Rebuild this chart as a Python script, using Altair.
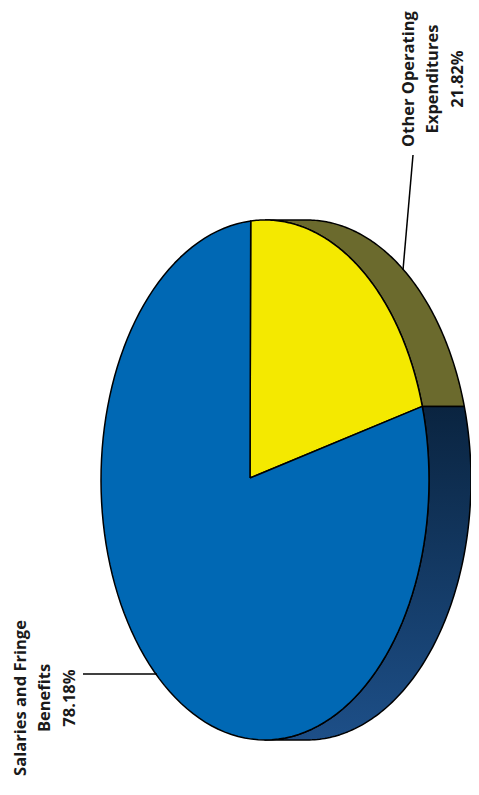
import numpy as np
import pandas as pd
import altair as alt

# ---- data ----
categories = ["Other Operating Expenditures", "Salaries and Fringe Benefits"]
values = [21.82, 78.18]
label_lines = [["Other Operating", "Expenditures", "21.82%"],
               ["Salaries and Fringe", "Benefits", "78.18%"]]

# ---- style / layout constants ----
face_colors = ["#f4e900", "#0068b4"]
side_colors = ["#6b6a2d", None]  # second one uses a gradient
navy_gradient = alt.Gradient(gradient="linear",
                             stops=[alt.GradientStop(color="#0a2440", offset=0),
                                    alt.GradientStop(color="#1d4f88", offset=1)],
                             x1=0, y1=0, x2=0, y2=1)
W, H = 463, 779
RX, RY = 164.0, 260.0          # ellipse radii in px
CX, CY = 257.0, 472.0          # ellipse center in plot px
VX, VY = -15.0 / RX, 2.0 / RY  # where slices meet, relative to ellipse centre (units)
START_DEG = -5.0               # first slice starts slightly left of top
DEPTH = 42.0 / RX              # horizontal extrusion (units)
LINE_GAP = 24.5                # px between label lines
label_centers = [(425, 71), (37, 690)]  # plot px, centre of each label block

xdom = [-CX / RX, (W - CX) / RX]
ydom = [-(H - CY) / RY, CY / RY]
xs = alt.Scale(domain=xdom, nice=False, zero=False)
ys = alt.Scale(domain=ydom, nice=False, zero=False)


def arc_pts(t0, t1, n=120, dx=0.0):
    t = np.radians(np.linspace(t0, t1, n))
    return list(np.sin(t) + dx), list(np.cos(t))


def poly_chart(px, py, fill, stroke_w=1.5):
    px = list(px) + [px[0]]
    py = list(py) + [py[0]]
    df = pd.DataFrame({"X": px, "Y": py, "i": range(len(px))})
    return alt.Chart(df).mark_line(fill=fill, stroke="black", strokeWidth=stroke_w,
                                   strokeJoin="round").encode(
        x=alt.X("X:Q", scale=xs, axis=None),
        y=alt.Y("Y:Q", scale=ys, axis=None),
        order=alt.Order("i:Q"),
    )


# slice angles from values
bounds = [START_DEG]
for v in values:
    bounds.append(bounds[-1] + v / sum(values) * 360.0)

layers = []
# side (visible right half: t in [0,180])
for k in range(len(values)):
    a = max(bounds[k], 0.0)
    b = min(bounds[k + 1], 180.0)
    if b <= a:
        continue
    fx, fy = arc_pts(a, b)
    sx, sy = arc_pts(b, a, dx=DEPTH)
    fill = side_colors[k] if side_colors[k] else navy_gradient
    layers.append(poly_chart(fx + sx, fy + sy, fill))

# top face slices
for k in range(len(values)):
    ax, ay = arc_pts(bounds[k], bounds[k + 1])
    layers.append(poly_chart([VX] + ax, [VY] + ay, face_colors[k]))

# leader lines
leaders = pd.DataFrame({
    "x": [(75 - CX) / RX, (405 - CX) / RX],
    "y": [(CY - 666) / RY, (CY - 147) / RY],
    "x2": [(149 - CX) / RX, (395 - CX) / RX],
    "y2": [(CY - 666) / RY, (CY - 262) / RY],
})
layers.append(alt.Chart(leaders).mark_rule(color="black", strokeWidth=1.5).encode(
    x=alt.X("x:Q", scale=xs, axis=None), y=alt.Y("y:Q", scale=ys, axis=None),
    x2="x2:Q", y2="y2:Q"))

# labels: one row per text line
rows = []
for cat, lines, (lx, ly) in zip(categories, label_lines, label_centers):
    n = len(lines)
    for j, t in enumerate(lines):
        px = lx + (j - (n - 1) / 2) * LINE_GAP
        rows.append({"cat": cat, "text": t,
                     "x": (px - CX) / RX, "y": (CY - ly) / RY})
lab = pd.DataFrame(rows)
layers.append(alt.Chart(lab).mark_text(
    angle=270, font="Open Sans", fontSize=16.5, fontWeight="bold",
    align="center", baseline="middle", color="#1a1a1a").encode(
    x=alt.X("x:Q", scale=xs, axis=None), y=alt.Y("y:Q", scale=ys, axis=None),
    text="text:N"))

chart = alt.layer(*layers).properties(
    width=W, height=H, padding=0, autosize=alt.AutoSizeParams(type="none")
).configure_view(stroke=None)

chart.save("out.html", embed_options={"renderer": "svg", "actions": False})
